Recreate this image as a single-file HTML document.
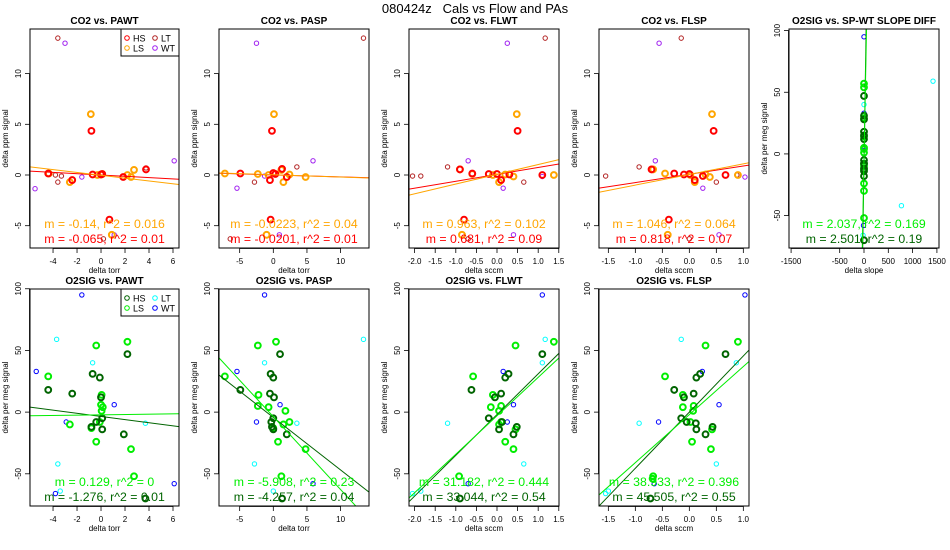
<!DOCTYPE html>
<html><head><meta charset="utf-8"><style>
html,body{margin:0;padding:0;background:#fff;width:950px;height:550px;overflow:hidden}
svg{display:block;font-family:"Liberation Sans",sans-serif}
</style></head><body>
<svg id="c" width="950" height="550" viewBox="0 0 950 550">
<rect width="950" height="550" fill="#fff"/>
<text x="475" y="13" text-anchor="middle" font-size="13" style="white-space:pre">080424z   Cals vs Flow and PAs</text>
</svg>
<script>
// ---- data ----
const p1HS=[[-4.4,0.15],[-2.4,-0.5],[-0.8,4.35],[-0.7,0.05],[0.1,0.1],[0.7,-4.4],[1.85,-0.2],[3.75,0.55],[0,0.05]];
const p1LS=[[-4.35,0.15],[-2.6,-0.7],[-0.85,6.0],[-0.3,0],[0,0.05],[2.2,0],[2.5,-0.2],[2.75,0.5],[0.9,-5.9],[0.1,0.1]];
const p1LT=[[-3.6,13.5],[-3.8,0],[-3.6,-0.7],[3.75,0.7],[0.2,-6.3],[-3.3,-0.1]];
const p1WT=[[-3,13],[-5.5,-1.35],[-1.6,-0.2],[6.1,1.4],[1.1,-5.9]];
const p2HS=[[-4.9,0.15],[-0.5,-0.5],[-0.2,4.35],[0,0.2],[1.3,0.6],[2,-0.2],[-0.4,-4.4],[0.3,0.1]];
const p2LS=[[-7.2,0.15],[-2.3,0.1],[0.1,6.0],[1.5,-0.7],[4.8,-0.2],[2.4,0.05],[-0.7,0],[1.2,0.5],[-1,-5.9]];
const p2LT=[[13.4,13.5],[-2.8,-0.7],[3.5,0.8],[-6.4,-6.3]];
const p2WT=[[-2.5,13],[5.9,1.4],[-5.4,-1.3],[-1.3,-0.1],[0.9,-5.9]];
const p3HS=[[-0.9,0.55],[-0.6,0.15],[-0.2,0.1],[0.1,-0.5],[0.3,0.05],[0.5,4.35],[1.1,0],[-0.8,-4.4],[0,0.1]];
const p3LS=[[-0.9,0.55],[-0.6,0.1],[-0.1,0],[0.05,-0.7],[0.4,-0.15],[0.48,6.0],[1.38,0],[0.2,0.05],[-0.85,-5.9]];
const p3LT=[[1.17,13.5],[-1.2,0.8],[0.65,-0.7],[-0.7,-6.3],[-2.05,-0.1],[-1.85,-0.1]];
const p3WT=[[0.25,13],[-0.7,1.4],[0.15,-1.3],[1.1,-0.15],[0.4,-5.9]];
const p4HS=[[-0.7,0.55],[-0.28,0.15],[-0.1,0.05],[0.1,-0.5],[0.25,-0.1],[0.45,4.35],[0.67,0],[-0.38,-4.4],[0,0.1]];
const p4LS=[[-0.67,0.55],[-0.45,0.15],[0.02,0],[0.1,-0.7],[0.38,-0.2],[0.42,6.0],[0.9,0],[0.3,0.05],[-0.4,-5.9]];
const p4LT=[[-0.15,13.5],[-0.93,0.8],[0.5,-0.7],[0,-6.3],[-1.55,-0.1],[0.88,0]];
const p4WT=[[-0.56,13],[-0.63,1.4],[0.25,-1.3],[1.03,-0.2],[0.55,-5.9]];
const p5HS=[[0,47],[0,31],[0,28],[0,18],[0,15],[0,12],[0,-5],[0,-8],[0,-14],[0,-18],[0,-12],[0,-70]];
const p5LS=[[0,57],[0,54],[0,29],[0,14],[0,5],[0,4],[0,1],[0,-8],[0,-10],[0,-13],[0,-24],[0,-30],[0,-52]];
const p5LT=[[0,40],[1420,59],[770,-42],[-20,-66]];
const p5WT=[[0,95],[0,33],[0,6],[0,-8],[-10,-58]];
const b1HS=[[-4.4,18],[-2.4,15],[-0.7,31],[-0.4,-8],[-0.1,28],[0,12],[0.1,-5],[0.1,-14],[-0.8,-12],[1.9,-18],[2.2,47],[3.7,-70]];
const b1LS=[[-4.4,29],[-2.6,-10],[-0.4,54],[-0.4,-24],[0,6],[0.05,1],[0.05,14],[0.15,4],[-0.8,-13],[-0.1,-8],[2.2,57],[2.5,-30],[2.75,-52]];
const b1LT=[[-3.7,59],[-0.7,40],[-3.6,-42],[3.7,-9],[-3.4,-64]];
const b1WT=[[-1.6,95],[-5.4,33],[-2.9,-8],[1.1,6],[6.1,-58],[-3.8,-66]];
const b2HS=[[-4.9,18],[-0.5,15],[-0.4,31],[0,28],[0.1,12],[0,-5],[0,-14],[-0.3,-8],[2,-18],[1,47],[1.3,-70],[-0.2,-12]];
const b2LS=[[-7.2,29],[-2.3,54],[-2.2,14],[-2.3,5],[-0.7,4],[0.4,57],[1.8,1],[1.5,-10],[2.4,-8],[0.7,-24],[4.8,-30],[1.2,-52],[0,-13]];
const b2LT=[[13.4,59],[-1.3,40],[-2.8,-42],[3.5,-9],[0,-64]];
const b2WT=[[-1.3,95],[-5.4,33],[-2.5,-8],[1,6],[5.9,-58]];
const b3HS=[[-0.62,18],[-0.2,-5],[0.1,15],[-0.05,12],[0.2,28],[0.28,31],[0.05,-14],[0.12,-8],[0.4,-18],[0.48,-12],[1.1,47],[-0.9,-70]];
const b3LS=[[-0.58,29],[-0.1,14],[-0.15,4],[0.1,5],[0.05,1],[0.05,-10],[0.45,54],[0.2,-24],[0.4,-30],[1.38,57],[-0.92,-52],[0.45,-14],[0.1,-8]];
const b3LT=[[1.17,59],[1.1,40],[-1.2,-9],[0.65,-42],[-2.05,-66],[-1.85,-64]];
const b3WT=[[1.1,95],[0.15,33],[0.4,6],[0.25,-8],[-0.7,-58]];
const b4HS=[[-0.28,18],[-0.1,12],[0.08,15],[0.13,28],[0.2,31],[-0.15,-5],[-0.05,-8],[0.13,-14],[0.3,-18],[0.43,-12],[0.67,47],[-0.72,-70],[0.12,-9]];
const b4LS=[[-0.45,29],[-0.12,14],[-0.12,4],[0.08,5],[0.07,1],[0.02,-8],[0.05,-24],[0.3,54],[0.4,-30],[0.9,57],[-0.67,-52],[0.42,-14],[-0.68,-54]];
const b4LT=[[-0.15,59],[0.87,40],[-0.93,-9],[0.5,-42],[-1.5,-64],[-1.55,-66]];
const b4WT=[[1.03,95],[0.24,33],[0.55,6],[-0.57,-8],[-0.65,-58]];
// fit slopes / intercepts [HS, LS]
const fitM={p1:[-0.065,-0.14],p2:[-0.0201,-0.0223],p3:[0.681,0.963],p4:[0.818,1.046],p5:[2.501,2.037],b1:[-1.276,0.129],b2:[-4.257,-5.908],b3:[33.044,31.182],b4:[45.505,38.933]};
const fitB={p1:[0,-0.03],p2:[0.01,0.02],p3:[0.06,0.07],p4:[0.07,0.05],p5:[-8,-5],b1:[-3.5,-2.2],b2:[-4.3,-3.7],b3:[-2,-3],b4:[0,-2]};
const xTicksA=[-4,-2,0,2,4,6], xTicksB=[-5,0,5,10], xTicksC=[-2.0,-1.5,-1.0,-0.5,0.0,0.5,1.0,1.5], xTicksD=[-1.5,-1.0,-0.5,0.0,0.5,1.0], xTicksE=[-1500,-500,0,500,1000,1500];
const yTicksCO2=[-5,0,5,10], yTicksO2=[-50,0,50,100];
const labelsTop=[["m = -0.14, r^2 = 0.016","m = -0.065, r^2 = 0.01"],["m = -0.0223, r^2 = 0.04","m = -0.0201, r^2 = 0.01"],["m = 0.963, r^2 = 0.102","m = 0.681, r^2 = 0.09"],["m = 1.046, r^2 = 0.064","m = 0.818, r^2 = 0.07"]];
const labelsBot=[["m = 0.129, r^2 = 0","m = -1.276, r^2 = 0.01"],["m = -5.908, r^2 = 0.23","m = -4.257, r^2 = 0.04"],["m = 31.182, r^2 = 0.444","m = 33.044, r^2 = 0.54"],["m = 38.933, r^2 = 0.396","m = 45.505, r^2 = 0.55"]];
const labels5=["m = 2.037, r^2 = 0.169","m = 2.501, r^2 = 0.19"];

const svg=document.getElementById('c');
const NS='http://www.w3.org/2000/svg';
function mk(tag,attrs,parent){const e=document.createElementNS(NS,tag);for(const k in attrs)e.setAttribute(k,attrs[k]);(parent||svg).appendChild(e);return e;}
let clipId=0;
function panel(o){
  const g=mk('g',{});
  
  
  const sx=v=>o.L+(v-o.x0)/(o.x1-o.x0)*(o.R-o.L);
  const sy=v=>o.B-(v-o.y0)/(o.y1-o.y0)*(o.B-o.T);
  const t=mk('text',{x:(o.L+o.R)/2,y:o.T-5,'text-anchor':'middle','font-size':10,'font-weight':'bold'},g);
  t.textContent=o.title;
  
  
  o.yt.forEach(v=>{const y=sy(v);mk('line',{x1:o.L-5,x2:o.L,y1:y,y2:y,stroke:'#000','stroke-width':0.8},g);
    const tx=mk('text',{x:o.L-9,y:y,'text-anchor':'middle','font-size':8,transform:`rotate(-90 ${o.L-9} ${y})`},g);tx.textContent=v;
    
    });
  mk('line',{x1:o.L-0.5,x2:o.L-0.5,y1:sy(o.yt[0]),y2:sy(o.yt[o.yt.length-1]),stroke:'#000','stroke-width':0.8},g);
  o.xt.forEach(v=>{const x=sx(v);mk('line',{x1:x,x2:x,y1:o.B,y2:o.B+5,stroke:'#000','stroke-width':0.8},g);
    const tx=mk('text',{x:x,y:o.B+16,'text-anchor':'middle','font-size':8},g);tx.textContent=(o.dec?v.toFixed(1):v);
    
    });
  mk('line',{x1:sx(o.xt[0]),x2:sx(o.xt[o.xt.length-1]),y1:o.B+0.5,y2:o.B+0.5,stroke:'#000','stroke-width':0.8},g);
  const xl=mk('text',{x:(o.L+o.R)/2,y:o.B+25,'text-anchor':'middle','font-size':8},g);xl.textContent=o.xlab;
  
  
  const yx=o.L-22,yy=(o.T+o.B)/2;
  const yl=mk('text',{x:yx,y:yy,'text-anchor':'middle','font-size':8,transform:`rotate(-90 ${yx} ${yy})`},g);yl.textContent=o.ylab;
  
  
  const id='cp'+(clipId++);
  const cp=mk('clipPath',{id:id},g);mk('rect',{x:o.L,y:o.T,width:o.R-o.L,height:o.B-o.T},cp);
  const pg=mk('g',{'clip-path':`url(#${id})`},g);
  const ser=[[o.d[2],o.c[2],2.2,1,'lt'],[o.d[3],o.c[3],2.2,1,'wt'],[o.d[1],o.c[1],2.9,2,'ls'],[o.d[0],o.c[0],2.9,2,'hs']];
  ser.forEach(s=>s[0].forEach(p=>{const ci=mk('circle',{cx:sx(p[0]),cy:sy(p[1]),r:s[2],fill:'none',stroke:s[1],'stroke-width':s[3]},pg);
    
    }));
  [0,1].forEach(i=>{const m=fitM[o.key][i],b=fitB[o.key][i];
    const ln=mk('line',{x1:sx(o.x0),y1:sy(m*o.x0+b),x2:sx(o.x1),y2:sy(m*o.x1+b),stroke:o.c[i],'stroke-width':1},pg);
    
    });
  mk('rect',{x:o.L,y:o.T,width:o.R-o.L,height:o.B-o.T,fill:'none',stroke:'#000','stroke-width':1},g);
  o.lab.forEach((s,i)=>{const tx=mk('text',{x:(o.L+o.R)/2,y:o.B-20+i*15,'text-anchor':'middle','font-size':12.3,fill:o.c[1-i]},g);tx.textContent=s;
    
    });
  if(o.legend){const lg=mk('g',{},g);
    
    
    mk('rect',{x:121,y:o.T,width:58,height:27,fill:'#fff',stroke:'#000','stroke-width':1},lg);
    [['HS',o.c[0],127,o.T+9],['LS',o.c[1],127,o.T+19],['LT',o.c[2],155,o.T+9],['WT',o.c[3],155,o.T+19]].forEach(e=>{
      mk('circle',{cx:e[2],cy:e[3],r:2.3,fill:'none',stroke:e[1],'stroke-width':1},lg);
      const tx=mk('text',{x:e[2]+6,y:e[3]+3.5,'font-size':9},lg);tx.textContent=e[0];
      
      });}
}
const cTop=['#ff0000','#ffa500','#b22222','#a020f0'], cBot=['#006400','#00ee00','#00ffff','#0000ff'];
const yCO2={y0:-7.2,y1:14.4}, yO2={y0:-76.1,y1:99.8};
const cols=[{L:30,R:179,x0:-5.92,x1:6.5,xt:xTicksA,xlab:'delta torr'},{L:219,R:369,x0:-8.07,x1:14.22,xt:xTicksB,xlab:'delta torr'},
 {L:409,R:559,x0:-2.136,x1:1.505,xt:xTicksC,xlab:'delta sccm',dec:true},{L:599,R:749,x0:-1.673,x1:1.105,xt:xTicksD,xlab:'delta sccm',dec:true}];
const topD=[[p1HS,p1LS,p1LT,p1WT],[p2HS,p2LS,p2LT,p2WT],[p3HS,p3LS,p3LT,p3WT],[p4HS,p4LS,p4LT,p4WT]];
const botD=[[b1HS,b1LS,b1LT,b1WT],[b2HS,b2LS,b2LT,b2WT],[b3HS,b3LS,b3LT,b3WT],[b4HS,b4LS,b4LT,b4WT]];
const tTop=['CO2 vs. PAWT','CO2 vs. PASP','CO2 vs. FLWT','CO2 vs. FLSP'];
const tBot=['O2SIG vs. PAWT','O2SIG vs. PASP','O2SIG vs. FLWT','O2SIG vs. FLSP'];
cols.forEach((c,i)=>{
  panel(Object.assign({},c,{name:'panel-co2-'+(i+1),key:'p'+(i+1),T:29,B:248,y0:yCO2.y0,y1:yCO2.y1,yt:yTicksCO2,title:tTop[i],ylab:'delta ppm signal',d:topD[i],c:cTop,lab:labelsTop[i],legend:i===0}));
  panel(Object.assign({},c,{name:'panel-o2-'+(i+1),key:'b'+(i+1),T:289,B:506,y0:yO2.y0,y1:yO2.y1,yt:yTicksO2,title:tBot[i],ylab:'delta per meg signal',d:botD[i],c:cBot,lab:labelsBot[i],legend:i===0}));
});
panel({name:'panel-slope-diff',key:'p5',L:789,R:939,T:29,B:248,x0:-1543,x1:1543,xt:xTicksE,xlab:'delta slope',y0:-76.3,y1:101.3,yt:yTicksO2,title:'O2SIG vs. SP-WT SLOPE DIFF',ylab:'delta per meg signal',d:[p5HS,p5LS,p5LT,p5WT],c:cBot,lab:labels5,legend:false});
</script>
</body></html>
